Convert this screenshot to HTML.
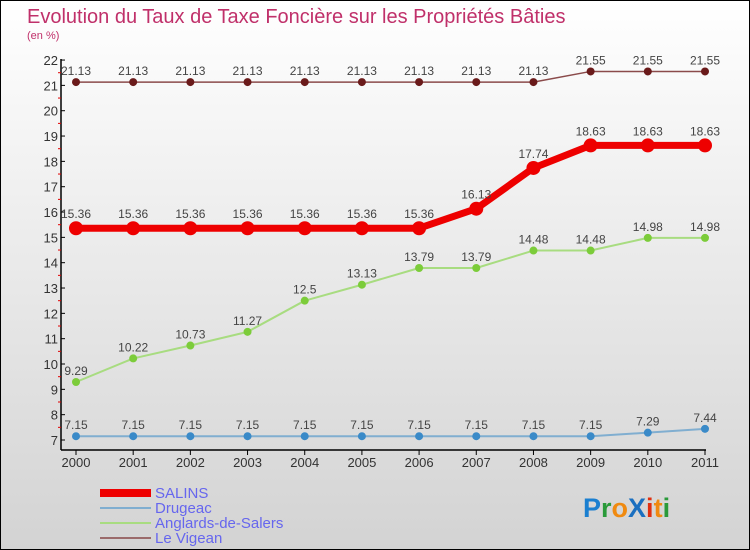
<!DOCTYPE html>
<html><head><meta charset="utf-8"><style>
body{margin:0}
svg{display:block;font-family:"Liberation Sans","DejaVu Sans",sans-serif}
</style></head><body>
<svg width="750" height="550" viewBox="0 0 750 550">
<defs><linearGradient id="bg" x1="0" y1="0" x2="0" y2="1"><stop offset="0" stop-color="#ffffff"/><stop offset="1" stop-color="#d3d3d3"/></linearGradient></defs>
<rect x="0.5" y="0.5" width="749" height="549" fill="url(#bg)" stroke="#000"/>
<text x="27" y="23" font-size="20" fill="#c0306a">Evolution du Taux de Taxe Foncière sur les Propriétés Bâties</text>
<text x="27" y="39" font-size="11" fill="#c0306a">(en %)</text>
<g id="axes"></g>
<g id="series"></g>
<g id="legend">
<rect x="100" y="489" width="51" height="8" fill="#ee0000"/>
<text x="155" y="498" font-size="15" fill="#6666ee">SALINS</text>
<rect x="100" y="507" width="51" height="2" fill="#80aed0"/>
<text x="155" y="513" font-size="15" fill="#6666ee">Drugeac</text>
<rect x="100" y="522" width="51" height="2" fill="#a8dc80"/>
<text x="155" y="528" font-size="15" fill="#6666ee">Anglards-de-Salers</text>
<rect x="100" y="537" width="51" height="2" fill="#9a6a6a"/>
<text x="155" y="543" font-size="15" fill="#6666ee">Le Vigean</text>
</g>
<g font-size="27" font-weight="bold">
<text x="583" y="517"><tspan fill="#1a7fd0">P</tspan><tspan fill="#2a9a3a">r</tspan><tspan fill="#f08a10">o</tspan><tspan fill="#1a6fc0">X</tspan><tspan fill="#e03010">i</tspan><tspan fill="#f08a10">t</tspan><tspan fill="#2a9a3a">i</tspan></text>
</g>
</svg>
<script>
const years=["2000","2001","2002","2003","2004","2005","2006","2007","2008","2009","2010","2011"];
const yTicks=[7,8,9,10,11,12,13,14,15,16,17,18,19,20,21,22];
const salins=[15.36,15.36,15.36,15.36,15.36,15.36,15.36,16.13,17.74,18.63,18.63,18.63];
const drugeac=[7.15,7.15,7.15,7.15,7.15,7.15,7.15,7.15,7.15,7.15,7.29,7.44];
const anglards=[9.29,10.22,10.73,11.27,12.5,13.13,13.79,13.79,14.48,14.48,14.98,14.98];
const vigean=[21.13,21.13,21.13,21.13,21.13,21.13,21.13,21.13,21.13,21.55,21.55,21.55];
const NS="http://www.w3.org/2000/svg";
const x=i=>76+i*(705-76)/(years.length-1);
const y=v=>440-(v-7)*25.33;
function mk(tag,attrs,parent,text){const e=document.createElementNS(NS,tag);for(const k in attrs)e.setAttribute(k,attrs[k]);if(text!==undefined)e.textContent=text;parent.appendChild(e);return e;}
const ax=document.getElementById('axes');
let e=mk('line',{x1:61,y1:59,x2:61,y2:450,stroke:'#000','stroke-width':1.5},ax);


e=mk('line',{x1:61,y1:450,x2:706,y2:450,stroke:'#000','stroke-width':1.5},ax);


yTicks.forEach((t,i)=>{
  mk('line',{x1:61,y1:y(t),x2:65,y2:y(t),stroke:'#000'},ax);
  if(i<yTicks.length-1)mk('line',{x1:58,y1:y(t+0.5),x2:61,y2:y(t+0.5),stroke:'#e00000'},ax);
  const l=mk('text',{x:58,y:y(t)+5,'font-size':13,fill:'#333','text-anchor':'end'},ax,String(t));
  
  
});
years.forEach((yr,i)=>{
  mk('line',{x1:x(i),y1:450,x2:x(i),y2:455,stroke:'#000'},ax);
  const l=mk('text',{x:x(i),y:467,'font-size':13,fill:'#333','text-anchor':'middle'},ax,yr);
  
  
});
const sg=document.getElementById('series');
function series(vals,name,color,w,r,fill,dy){
  const g=mk('g',{},sg);
  
  
  const p=mk('polyline',{points:vals.map((v,i)=>x(i)+','+y(v)).join(' '),fill:'none',stroke:color,'stroke-width':w,'stroke-linejoin':'round'},g);
  
  
  vals.forEach((v,i)=>{
    const c=mk('circle',{cx:x(i),cy:y(v),r:r,fill:fill},g);
    
    
    const t=mk('text',{x:x(i),y:y(v)-dy,'font-size':12,fill:'#444','text-anchor':'middle'},g,String(v));
    
    
  });
}
series(vigean,'le-vigean','#8a4a4a',1.5,4,'#6a1a1a',7);
series(anglards,'anglards','#a8dc80',2,4,'#7ccc3a',7);
series(drugeac,'drugeac','#80aed0',2,4,'#3a8ac8',7);
series(salins,'salins','#ee0000',7,7,'#ee0000',10);
</script>
</body></html>
